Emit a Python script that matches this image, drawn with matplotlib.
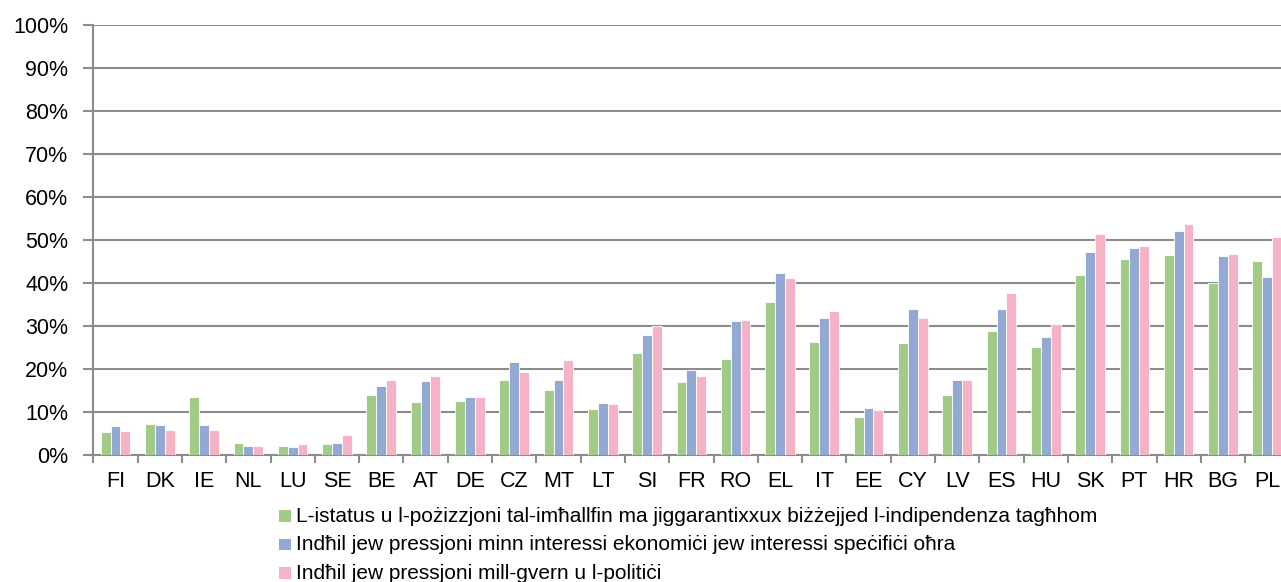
import matplotlib
matplotlib.use("Agg")
import matplotlib.pyplot as plt
from matplotlib.patches import Rectangle
import numpy as np

plt.rcParams['font.family'] = ['Liberation Sans', 'DejaVu Sans']

countries = ["FI", "DK", "IE", "NL", "LU", "SE", "BE", "AT", "DE", "CZ", "MT", "LT", "SI",
             "FR", "RO", "EL", "IT", "EE", "CY", "LV", "ES", "HU", "SK", "PT", "HR", "BG", "PL"]

status_judges = [5.4, 7.2, 13.5, 2.9, 2.2, 2.6, 14.0, 12.3, 12.6, 17.6, 15.2, 10.7, 23.8,
                 17.1, 22.4, 35.7, 26.3, 8.9, 26.1, 14.0, 28.9, 25.1, 41.8, 45.6, 46.6, 39.9, 45.1]
economic_pressure = [6.8, 7.0, 7.0, 2.2, 1.9, 2.9, 16.0, 17.3, 13.5, 21.7, 17.5, 12.1, 27.9,
                     19.9, 31.2, 42.4, 31.8, 10.9, 33.9, 17.6, 33.9, 27.4, 47.2, 48.2, 52.0, 46.4, 41.5]
government_pressure = [5.6, 5.9, 5.8, 2.2, 2.6, 4.6, 17.6, 18.4, 13.5, 19.3, 22.2, 11.8, 30.1,
                       18.5, 31.4, 41.1, 33.4, 10.5, 32.0, 17.6, 37.7, 30.5, 51.4, 48.7, 53.6, 46.7, 50.8]

series_labels = [
    "L-istatus u l-pożizzjoni tal-imħallfin ma jiggarantixxux biżżejjed l-indipendenza tagħhom",
    "Indħil jew pressjoni minn interessi ekonomiċi jew interessi speċifiċi oħra",
    "Indħil jew pressjoni mill-gvern u l-politiċi",
]
colors = ["#A1CB87", "#92A9D4", "#F5B3C5"]
y_ticks = list(range(0, 101, 10))

W, H = 1281, 582
fig = plt.figure(figsize=(W / 100, H / 100), dpi=100)
left_px, right_px, top_px, base_px = 93.3, 93.3 + 27 * 44.3, 24.7, 455.3
ax = fig.add_axes([left_px / W, (H - base_px) / H,
                   (right_px - left_px) / W, (base_px - top_px) / H])

x = np.arange(len(countries))
bw = 1 / 4.5
for i, (vals, c) in enumerate(zip([status_judges, economic_pressure, government_pressure], colors)):
    ax.bar(x + (i - 1) * bw, vals, width=bw, color=c, edgecolor="white",
           linewidth=0.6, zorder=3)

grid_c = "#8C8C8C"
ax.set_ylim(0, 100)
ax.set_xlim(-0.5, len(countries) - 0.5)
ax.set_yticks(y_ticks)
ax.set_yticklabels([f"{v}%" for v in y_ticks], fontsize=15.5)
ax.yaxis.grid(True, color=grid_c, linewidth=1.5, zorder=0)
ax.set_axisbelow(True)

ax.set_xticks(x)
ax.set_xticklabels(countries, fontsize=15.5)
ax.set_xticks(np.arange(-0.5, len(countries), 1), minor=True)
ax.tick_params(axis="x", which="major", length=0, pad=11)
ax.tick_params(axis="x", which="minor", length=6, width=1.5, color=grid_c, direction="out")
ax.tick_params(axis="y", length=7, width=1.5, color=grid_c, pad=11)

for s in ["top", "right"]:
    ax.spines[s].set_visible(False)
for s in ["left", "bottom"]:
    ax.spines[s].set_color(grid_c)
    ax.spines[s].set_linewidth(1.5)

# Legend rows drawn below the axes: colour square plus label on a shared baseline
for i, (lab, c) in enumerate(zip(series_labels, colors)):
    baseline = 522 + i * 28.3
    fig.patches.append(Rectangle((279 / W, (H - baseline) / H), 12 / W, 11.7 / H,
                                 transform=fig.transFigure, facecolor=c,
                                 edgecolor="none"))
    fig.text(296 / W, (H - baseline) / H, lab, fontsize=15, va="baseline", ha="left")

fig.savefig("out.png", dpi=100)
